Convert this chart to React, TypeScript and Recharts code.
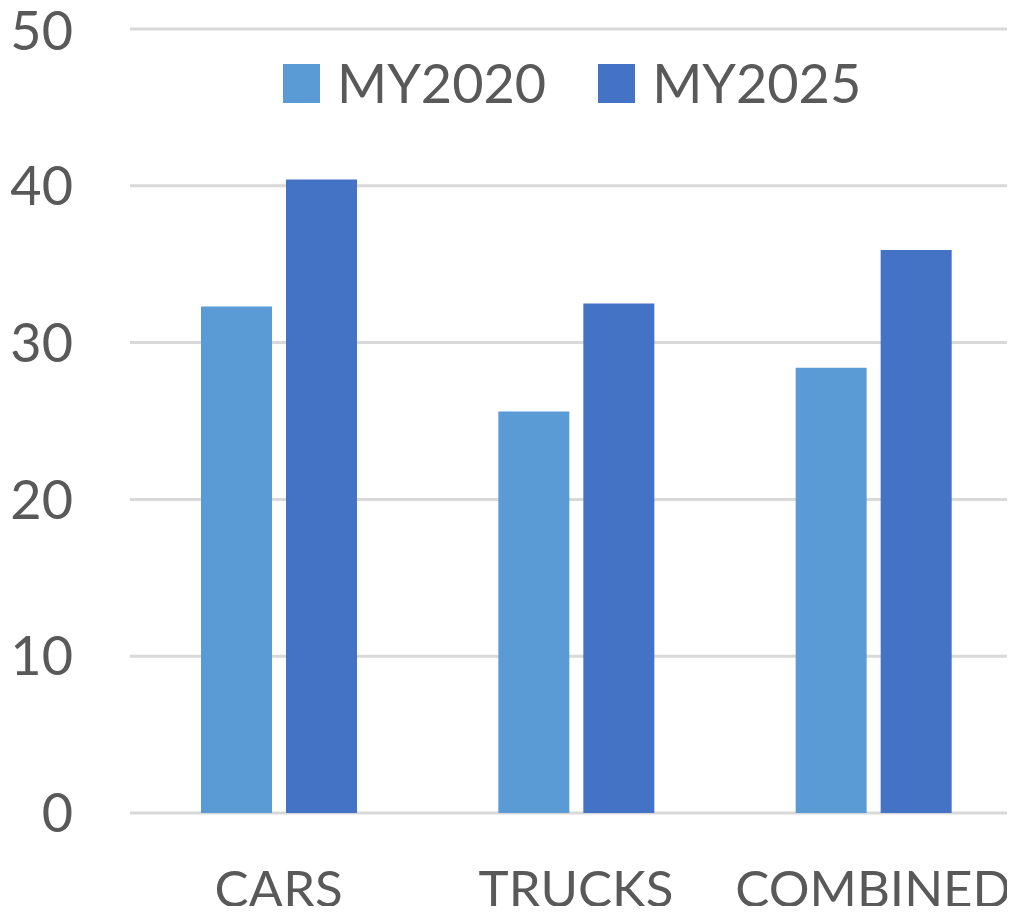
import React from 'react';
import { BarChart, Bar, XAxis, YAxis, CartesianGrid, Legend } from 'recharts';

const categories = ['CARS', 'TRUCKS', 'COMBINED'];
const my2020 = [32.3, 25.6, 28.4];
const my2025 = [40.4, 32.5, 35.9];
const yTicks = [0, 10, 20, 30, 40, 50];
const seriesNames = ['MY2020', 'MY2025'];
const seriesColors = ['#5B9BD5', '#4472C4'];

const data = categories.map((c, i) => ({ name: c, a: my2020[i], b: my2025[i] }));

const FONT = 'Lato, "Open Sans", sans-serif';
const FS = 54;
const XFS = 51;
const TEXT = '#595959';

const renderLegend = (props: any) => {
  const { payload } = props;
  return (
    <div style={{ display: 'flex', alignItems: 'center' }}>
      {payload.map((entry: any, i: number) => (
        <div
          key={entry.value}
          style={{ display: 'flex', alignItems: 'center', marginRight: i < payload.length - 1 ? 52 : 0 }}
        >
          <div style={{ width: 37, height: 39, background: entry.color, marginRight: 17 }} />
          <span style={{ fontFamily: FONT, fontSize: FS, color: TEXT, lineHeight: '1' }}>{entry.value}</span>
        </div>
      ))}
    </div>
  );
};

export default function App() {
  return (
    <div style={{ margin: -8, width: 1015, height: 914, overflow: 'hidden', background: '#fff' }}>
      <BarChart
        width={1030}
        height={914}
        data={data}
        margin={{ top: 29, right: 8, left: 0, bottom: 0 }}
        barSize={71}
        barGap={14}
      >
        <CartesianGrid vertical={false} stroke="#D9D9D9" strokeWidth={3} />
        <XAxis
          dataKey="name"
          axisLine={false}
          tickLine={false}
          tickSize={0}
          tickMargin={58}
          height={101}
          interval={0}
          tick={{ fill: TEXT, fontSize: XFS, fontFamily: FONT }}
        />
        <YAxis
          domain={[0, 50]}
          ticks={yTicks}
          axisLine={false}
          tickLine={false}
          tickSize={0}
          tickMargin={57}
          width={130}
          tick={{ fill: TEXT, fontSize: FS, fontFamily: FONT }}
        />
        <Legend
          layout="horizontal"
          verticalAlign="middle"
          align="center"
          content={renderLegend}
          wrapperStyle={{ top: 56, left: 283, width: 'auto' }}
        />
        <Bar dataKey="a" name={seriesNames[0]} fill={seriesColors[0]} isAnimationActive={false} />
        <Bar dataKey="b" name={seriesNames[1]} fill={seriesColors[1]} isAnimationActive={false} />
      </BarChart>
    </div>
  );
}
